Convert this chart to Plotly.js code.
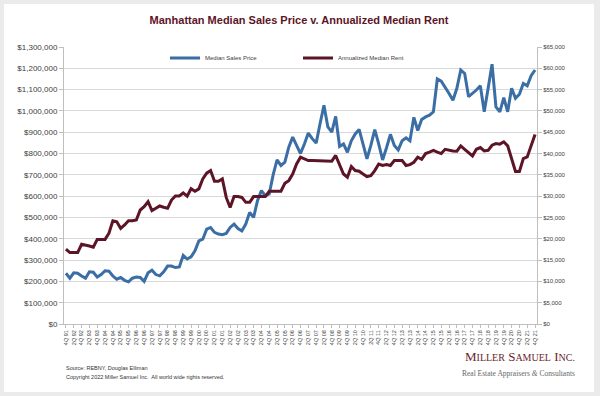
<!DOCTYPE html>
<html>
<head>
<meta charset="utf-8">
<script src="https://cdn.plot.ly/plotly-3.0.1.min.js"></script>
<style>
  html, body { margin: 0; padding: 0; background: #ebebeb; width: 600px; height: 396px; overflow: hidden; }
  #chart { position: absolute; left: 4px; top: 4px; width: 590px; height: 388px; background: #ffffff; }
</style>
</head>
<body>
<div id="chart"></div>
<script>
// Quarterly categories 4Q 91 .. 4Q 21
const quarters = [
  "4Q 91",
  "1Q 92","2Q 92","3Q 92","4Q 92",
  "1Q 93","2Q 93","3Q 93","4Q 93",
  "1Q 94","2Q 94","3Q 94","4Q 94",
  "1Q 95","2Q 95","3Q 95","4Q 95",
  "1Q 96","2Q 96","3Q 96","4Q 96",
  "1Q 97","2Q 97","3Q 97","4Q 97",
  "1Q 98","2Q 98","3Q 98","4Q 98",
  "1Q 99","2Q 99","3Q 99","4Q 99",
  "1Q 00","2Q 00","3Q 00","4Q 00",
  "1Q 01","2Q 01","3Q 01","4Q 01",
  "1Q 02","2Q 02","3Q 02","4Q 02",
  "1Q 03","2Q 03","3Q 03","4Q 03",
  "1Q 04","2Q 04","3Q 04","4Q 04",
  "1Q 05","2Q 05","3Q 05","4Q 05",
  "1Q 06","2Q 06","3Q 06","4Q 06",
  "1Q 07","2Q 07","3Q 07","4Q 07",
  "1Q 08","2Q 08","3Q 08","4Q 08",
  "1Q 09","2Q 09","3Q 09","4Q 09",
  "1Q 10","2Q 10","3Q 10","4Q 10",
  "1Q 11","2Q 11","3Q 11","4Q 11",
  "1Q 12","2Q 12","3Q 12","4Q 12",
  "1Q 13","2Q 13","3Q 13","4Q 13",
  "1Q 14","2Q 14","3Q 14","4Q 14",
  "1Q 15","2Q 15","3Q 15","4Q 15",
  "1Q 16","2Q 16","3Q 16","4Q 16",
  "1Q 17","2Q 17","3Q 17","4Q 17",
  "1Q 18","2Q 18","3Q 18","4Q 18",
  "1Q 19","2Q 19","3Q 19","4Q 19",
  "1Q 20","2Q 20","3Q 20","4Q 20",
  "1Q 21","2Q 21","3Q 21","4Q 21"
];

// Median sales price ($)
const medianSalesPrice = [
  238000,215000,240000,238000,225000,215000,245000,243000,220000,232000,
  250000,248000,225000,210000,218000,205000,198000,215000,220000,218000,
  200000,240000,252000,232000,226000,245000,272000,272000,265000,268000,
  322000,305000,315000,343000,390000,398000,445000,453000,430000,422000,
  419000,425000,453000,469000,448000,437000,469000,524000,500000,579000,
  626000,602000,610000,700000,770000,744000,760000,830000,877000,838000,
  800000,845000,896000,870000,849000,940000,1026000,925000,900000,974000,
  833000,845000,806000,860000,892000,913000,845000,775000,838000,912000,
  845000,770000,827000,890000,838000,817000,860000,874000,860000,970000,
  908000,960000,972000,980000,996000,1150000,1140000,1114000,1082000,1050000,
  1106000,1192000,1176000,1067000,1082000,1098000,1118000,996000,1106000,1219000,
  1019000,996000,1062000,996000,1106000,1059000,1078000,1129000,1118000,1165000,
  1192000
];

// Annualized median rent ($) - right axis
const annualizedMedianRent = [
  17550,16750,16750,16750,18700,18550,18300,18000,19850,19850,
  19850,21300,24200,24000,22450,23250,24250,24250,24400,26750,
  27550,28700,26600,27150,27700,27400,27150,29100,30050,30050,
  30750,30000,31750,31150,31700,34050,35400,36000,33500,33500,
  34050,29700,27350,29900,29900,29700,28550,28550,29900,29900,
  29900,29900,31150,31150,31150,31150,33000,33650,35200,37550,
  39150,38750,38350,38350,38350,38350,38350,38350,38200,39550,
  37550,35200,34450,36950,36000,35850,35200,34600,34800,36000,
  37550,37200,37400,37200,38350,38350,38350,37200,37400,37950,
  39150,38650,40000,40350,40750,40350,40000,41000,40750,40600,
  40550,41800,41000,40200,39450,41000,41400,40600,40750,41950,
  42350,42200,42750,41800,38800,35800,35800,38800,39200,41950,
  44450
];

// Tick labels shown every other quarter
const tickLabels = quarters.filter((q, i) => i % 2 === 0);

const blue = '#3b6ea5';
const maroon = '#5c1426';
const gridColor = '#d9d9d9';
const axisColor = '#bfbfbf';
const textColor = '#404040';

const traces = [
  {
    x: quarters, y: medianSalesPrice, name: 'Median Sales Price',
    type: 'scatter', mode: 'lines', yaxis: 'y',
    line: { color: blue, width: 3 }
  },
  {
    x: quarters, y: annualizedMedianRent, name: 'Annualized Median Rent',
    type: 'scatter', mode: 'lines', yaxis: 'y2',
    line: { color: maroon, width: 3 }
  }
];

const W = 473, H = 277, L = 60, T = 43;
function px(xDiv) { return (xDiv - L) / W; }
function py(yDiv) { return 1 - (yDiv - T) / H; }

const layout = {
  width: 590, height: 388,
  margin: { l: L, r: 57, t: T, b: 68 },
  paper_bgcolor: '#ffffff', plot_bgcolor: '#ffffff',
  font: { family: 'Liberation Sans, Arial, sans-serif', color: textColor, size: 8 },
  title: {
    text: '<b>Manhattan Median Sales Price v. Annualized Median Rent</b>',
    font: { family: 'Liberation Sans, Arial, sans-serif', size: 11, color: maroon },
    x: 0.5, xanchor: 'center', y: 1 - 16 / 388, yanchor: 'middle', yref: 'container'
  },
  showlegend: true,
  legend: {
    orientation: 'h', x: px(201 - 40), xanchor: 'left', y: py(54), yanchor: 'middle',
    font: { size: 6, color: textColor }, bgcolor: 'rgba(0,0,0,0)',
    itemwidth: 30, entrywidth: 88, entrywidthmode: 'pixels', tracegroupgap: 0
  },
  xaxis: {
    type: 'category', range: [-0.5, quarters.length - 0.5],
    tickvals: tickLabels, ticktext: tickLabels, tickangle: -90,
    tickfont: { size: 5.5, color: textColor },
    showgrid: false, showline: true, linecolor: axisColor, linewidth: 1,
    ticks: 'outside', ticklen: 3, tickcolor: axisColor, zeroline: false,
    fixedrange: true
  },
  yaxis: {
    range: [0, 1300000], dtick: 100000, tickprefix: '$', tickformat: ',d',
    tickfont: { size: 8, color: textColor },
    showgrid: true, gridcolor: gridColor, gridwidth: 1,
    showline: true, linecolor: axisColor, linewidth: 1,
    ticks: 'outside', ticklen: 4, tickcolor: axisColor, zeroline: false,
    fixedrange: true
  },
  yaxis2: {
    overlaying: 'y', side: 'right',
    range: [0, 65000], dtick: 5000, tickprefix: '$', tickformat: ',d',
    tickfont: { size: 6, color: textColor },
    showgrid: false, showline: true, linecolor: axisColor, linewidth: 1,
    ticks: 'outside', ticklen: 4, tickcolor: axisColor, zeroline: false,
    fixedrange: true
  },
  annotations: [
    { text: 'Source: REBNY, Douglas Elliman', xref: 'paper', yref: 'paper',
      x: px(60), y: py(364), xanchor: 'left', yanchor: 'middle', showarrow: false,
      font: { size: 5.5, color: '#333333' } },
    { text: 'Copyright 2022 Miller Samuel Inc.  All world wide rights reserved.', xref: 'paper', yref: 'paper',
      x: px(60), y: py(373), xanchor: 'left', yanchor: 'middle', showarrow: false,
      font: { size: 5.5, color: '#333333' } },
    { text: 'M<span style="font-size:10px">ILLER</span> S<span style="font-size:10px">AMUEL</span> I<span style="font-size:10px">NC.</span>',
      xref: 'paper', yref: 'paper', x: px(573), y: py(352), xanchor: 'right', yanchor: 'middle', showarrow: false,
      font: { family: 'Liberation Serif, Times New Roman, serif', size: 13, color: '#6a1e2e' } },
    { text: 'Real Estate Appraisers <i>&amp;</i> Consultants',
      xref: 'paper', yref: 'paper', x: px(573), y: py(369), xanchor: 'right', yanchor: 'middle', showarrow: false,
      font: { family: 'Liberation Serif, Times New Roman, serif', size: 7.5, color: '#666666' } }
  ]
};

Plotly.newPlot('chart', traces, layout, { displayModeBar: false, staticPlot: true });
</script>
</body>
</html>
